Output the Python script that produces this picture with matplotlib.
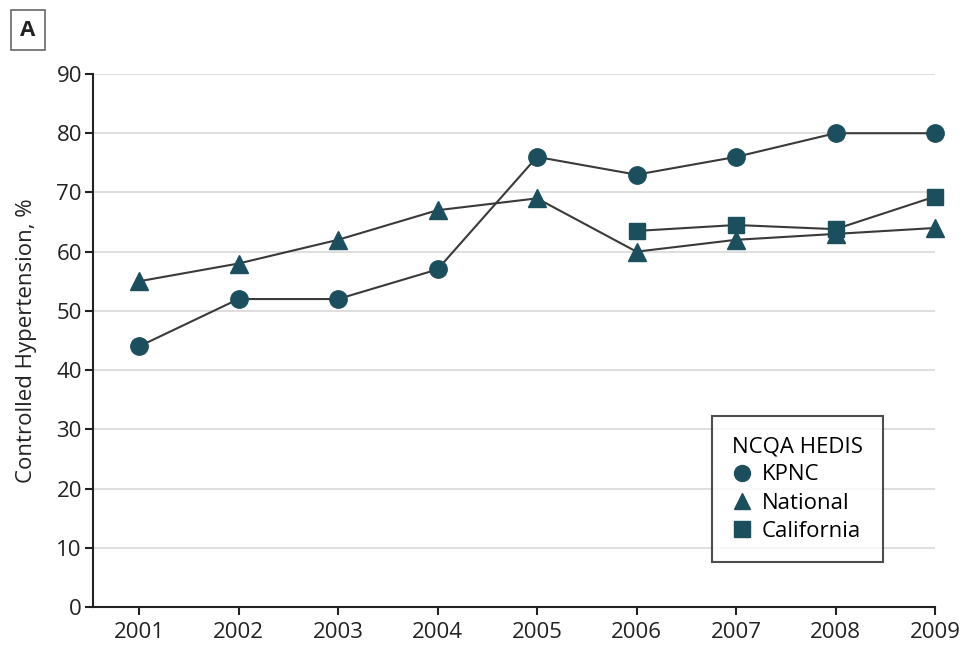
import matplotlib
matplotlib.use("Agg")
import matplotlib.pyplot as plt
from matplotlib.lines import Line2D

plt.rcParams['font.family'] = ['Open Sans', 'DejaVu Sans']

years = [2001, 2002, 2003, 2004, 2005, 2006, 2007, 2008, 2009]
kpnc = [44, 52, 52, 57, 76, 73, 76, 80, 80]
national = [55, 58, 62, 67, 69, 60, 62, 63, 64]
cal_years = [2006, 2007, 2008, 2009]
california = [63.5, 64.5, 63.8, 69.3]
yticks = [0, 10, 20, 30, 40, 50, 60, 70, 80, 90]

mcol = '#1c4f5e'
lcol = '#3a3a3a'

fig = plt.figure(figsize=(9.64, 6.46), dpi=100)
ax = fig.add_axes([93/964, 1-607/646, (935-93)/964, (607-74)/646])

for y in yticks[1:]:
    ax.axhline(y, color='#d8d8d8', lw=1.2, zorder=0)

ax.plot(years, kpnc, color=lcol, lw=1.5, marker='o', ms=12.5, mfc=mcol, mec=mcol, zorder=3, clip_on=False)
ax.plot(years, national, color=lcol, lw=1.5, marker='^', ms=13, mfc=mcol, mec=mcol, zorder=3, clip_on=False)
ax.plot(cal_years, california, color=lcol, lw=1.5, marker='s', ms=12, mfc=mcol, mec=mcol, zorder=4, clip_on=False)

ax.set_xlim(2001 - 46/99.5, 2009)
ax.set_ylim(0, 90)
ax.set_xticks(years)
ax.set_yticks(yticks)
ax.tick_params(axis='both', labelsize=16, colors='#222222', length=6, width=1.5)
ax.tick_params(axis='y', pad=2)
ax.tick_params(axis='x', pad=5)
for s in ['top', 'right']:
    ax.spines[s].set_visible(False)
for s in ['left', 'bottom']:
    ax.spines[s].set_linewidth(1.5)
    ax.spines[s].set_color('#222222')

ax.set_ylabel('Controlled Hypertension, %', fontsize=16, color='#222222', labelpad=14)

handles = [
    Line2D([], [], ls='none', marker='o', ms=11.5, mfc=mcol, mec=mcol, label='KPNC'),
    Line2D([], [], ls='none', marker='^', ms=12, mfc=mcol, mec=mcol, label='National'),
    Line2D([], [], ls='none', marker='s', ms=11, mfc=mcol, mec=mcol, label='California'),
]
leg = ax.legend(handles=handles, title='NCQA HEDIS', loc='upper left',
                bbox_to_anchor=((712-93)/(935-93), (607-416)/(607-74)),
                fontsize=16, title_fontsize=16, frameon=True, fancybox=False,
                handlelength=0.9, handletextpad=0.45, labelspacing=0.33,
                borderpad=0.9, alignment='left', borderaxespad=0)
leg.get_frame().set_edgecolor('#222222')
leg.get_frame().set_linewidth(1.5)

fig.text(28/964, 1-30/646, 'A', fontsize=16, fontweight='bold', ha='center', va='center',
         color='#222222',
         bbox=dict(boxstyle='square,pad=0.42', fc='white', ec='#666666', lw=1.2))

fig.savefig('out.png', dpi=100)
